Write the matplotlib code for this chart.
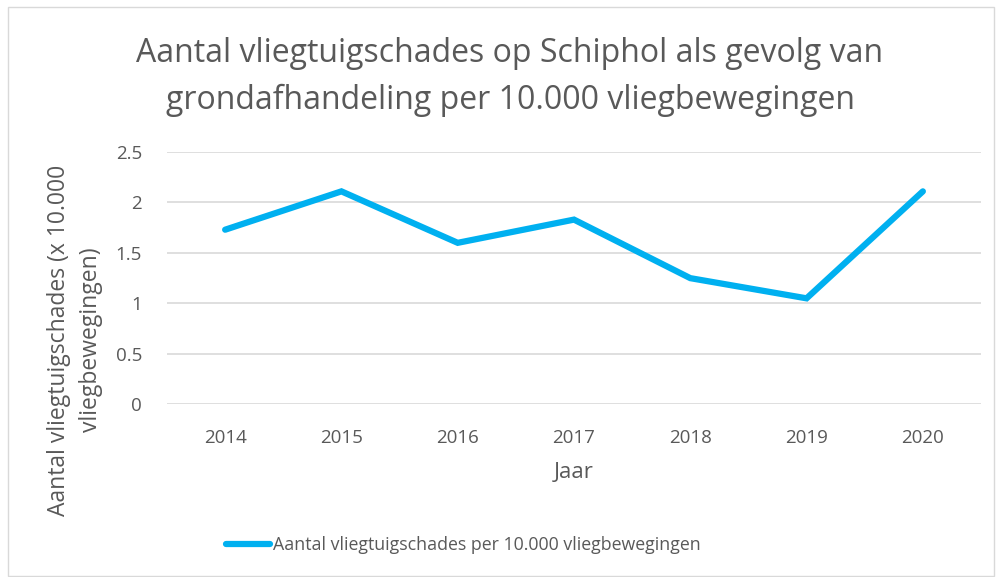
import matplotlib
matplotlib.use("Agg")
import matplotlib.pyplot as plt
from matplotlib.patches import Rectangle

years = ["2014", "2015", "2016", "2017", "2018", "2019", "2020"]
values = [1.73, 2.11, 1.60, 1.83, 1.25, 1.05, 2.11]
yticks = [0, 0.5, 1, 1.5, 2, 2.5]
ytick_labels = ["0", "0.5", "1", "1.5", "2", "2.5"]
title = "Aantal vliegtuigschades op Schiphol als gevolg van\ngrondafhandeling per 10.000 vliegbewegingen"
series_name = "Aantal vliegtuigschades per 10.000 vliegbewegingen"
xlabel = "Jaar"
ylabel = "Aantal vliegtuigschades (x 10.000\nvliegbewegingen)"

W, H = 997, 577
fig = plt.figure(figsize=(W / 100, H / 100), dpi=100)
fig.patch.set_facecolor("white")

def fx(px):
    return px / W

def fy(py):
    return 1 - py / H

fig.patches.append(Rectangle((fx(8), fy(576)), fx(986), (577 - 7 - 1) / H,
                             transform=fig.transFigure, fill=False,
                             edgecolor="#d9d9d9", linewidth=1))

grey = "#595959"
font = "Open Sans"

ax = fig.add_axes([fx(167), fy(404.3), fx(981 - 167), (404.3 - 152) / H])
x = list(range(len(years)))
line, = ax.plot(x, values, color="#00b0f0", linewidth=4.5, solid_capstyle="round",
                solid_joinstyle="miter", label=series_name)
ax.set_xlim(-0.5, len(years) - 0.5)
ax.set_ylim(0, 2.5)
ax.set_yticks(yticks)
ax.set_yticklabels(ytick_labels)
ax.set_xticks(x)
ax.set_xticklabels(years)
for s in ax.spines.values():
    s.set_visible(False)
ax.grid(axis="y", color="#d9d9d9", linewidth=1.2)
ax.set_axisbelow(True)
ax.tick_params(length=0, colors=grey, labelsize=13.5)
ax.tick_params(axis="y", pad=18)
ax.tick_params(axis="x", pad=18)
for lab in ax.get_xticklabels() + ax.get_yticklabels():
    lab.set_fontfamily(font)

fig.text(fx(510), fy(77), title, ha="center", va="center", fontsize=23,
         color=grey, family=font, linespacing=1.55)
fig.text(fx(574), fy(473), xlabel, ha="center", va="center", fontsize=16,
         color=grey, family=font)
fig.text(fx(75), fy(340), ylabel, ha="center", va="center", fontsize=16.5,
         color=grey, family=font, rotation=90, linespacing=1.4)

leg = fig.legend(handles=[line], loc="center", bbox_to_anchor=(fx(463), fy(545)),
                 frameon=False, handlelength=2.5, handletextpad=0.15,
                 prop={"family": font, "size": 12.8})
for t in leg.get_texts():
    t.set_color(grey)

fig.savefig("out.png", dpi=100)
